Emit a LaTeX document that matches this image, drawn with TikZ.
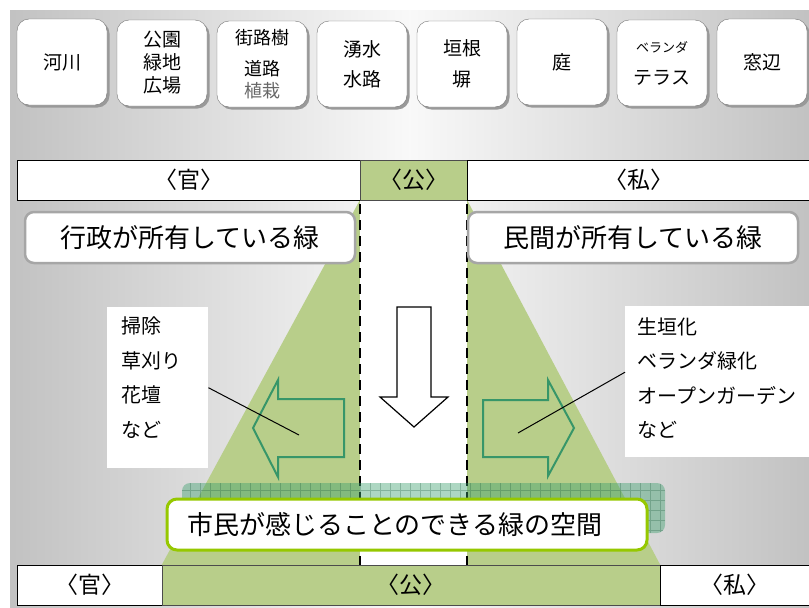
\documentclass[tikz,border=0pt]{standalone}
\usepackage{fontspec}
\setmainfont{Noto Sans CJK JP}
\usepackage{tikz}
\usetikzlibrary{calc,shapes,shadows,backgrounds,positioning}

\definecolor{midori}{RGB}{184,206,138}
\definecolor{yajirushi}{RGB}{55,150,105}
\definecolor{kimidori}{RGB}{150,200,0}
\definecolor{ami}{RGB}{60,160,110}

\begin{document}
\begin{tikzpicture}[x=1pt,y=-1pt]
          \useasboundingbox (0,0) rectangle (809,608);

          \tikzstyle{topbox}=[draw=gray!90!black, fill=white, rounded corners=12, minimum width=90, minimum height=86, align=center, font=\fontsize{19}{23}\selectfont, drop shadow={opacity=1, fill=gray!80, shadow xshift=2.5pt, shadow yshift=-2.5pt}]
          \tikzstyle{band}=[draw=black, fill=white, minimum height=40, inner sep=0, font=\fontsize{23}{27}\selectfont]
          \tikzstyle{bandko}=[band, draw=black!70, fill=midori]
          \tikzstyle{ownbox}=[draw=gray!70, line width=2.5, fill=white, rounded corners=9, minimum width=330, minimum height=51, inner sep=0, font=\fontsize{26}{30}\selectfont]
          \tikzstyle{listbox}=[fill=white, inner sep=0, anchor=north west]
          \tikzstyle{listtxt}=[inner sep=0, anchor=north west, align=left, font=\fontsize{20}{34.5}\selectfont]
          \tikzstyle{bigarrow}=[draw=yajirushi, line width=2, line join=miter]
          \tikzstyle{dashline}=[line width=2, dash pattern=on 10pt off 6pt]
          \tikzstyle{kukanbox}=[draw=kimidori, line width=3, fill=white, rounded corners=10, minimum width=480, minimum height=51, inner xsep=20, text width=440, align=left, font=\fontsize{26}{30}\selectfont]

          % 上段のボックス
          \node[topbox] (kasen) at (62,62) {河川};
          \node[topbox] (koen) at (162,63) {公園\\緑地\\広場};
          \node[topbox, font=\fontsize{18}{22}\selectfont] (gairo) at (262,64) {街路樹\\[9pt]道路\\\textcolor{gray!80!black}{植栽}};
          \node[topbox] (yusui) at (362,64) {湧水\\[7pt]水路};
          \node[topbox] (kakine) at (462,64) {垣根\\[8pt]塀};
          \node[topbox] (niwa) at (562,62) {庭};
          \node[topbox] (veranda) at (662,63) {{\fontsize{13}{15}\selectfont ベランダ}\\[9pt]テラス};
          \node[topbox] (madobe) at (762,62) {窓辺};

          % 官・公・私
          \node[band, minimum width=343] (kan1) at (188.5,180) {〈官〉};
          \node[bandko, minimum width=107] (ko1) at (413.5,180) {〈公〉};
          \node[band, minimum width=343] (shi1) at (638.5,180) {〈私〉};

          \node[band, minimum width=145] (kan2) at (89.5,585) {〈官〉};
          \node[bandko, minimum width=498] (ko2) at (411,585) {〈公〉};
          \node[band, minimum width=150] (shi2) at (735,585) {〈私〉};

          % 背景と緑の三角
          \begin{scope}[on background layer]
            \shade[left color=gray!48, right color=gray!48, middle color=gray!5] (10,10) rectangle (809,608);
            \fill[midori] (ko1.south west) -- (ko1.south west |- ko2.north) -- (ko2.north west) -- cycle;
            \fill[midori] (ko1.south east) -- (ko1.south east |- ko2.north) -- (ko2.north east) -- cycle;
            \fill[white] (ko1.south west) rectangle (ko1.south east |- ko2.north);
            \draw[dashline] ([yshift=-4pt]ko1.south west) -- (ko1.south west |- ko2.north);
            \draw[dashline] ([yshift=-4pt]ko1.south east) -- (ko1.south east |- ko2.north);
          \end{scope}

          % 所有している緑
          \node[ownbox] (gyosei) at (190,237.5) {行政が所有している緑};
          \node[ownbox] (minkan) at (633,237.5) {民間が所有している緑};

          % 矢印
          \draw[fill=white, line width=1.2] (397,307) -- (431,307) -- (431,397) -- (448,397) -- (414,427) -- (380,397) -- (397,397) -- cycle;
          \draw[bigarrow] (344,399) -- (344,457) -- (278,457) -- (278,477) -- (253,428) -- (278,380) -- (278,399) -- cycle;
          \draw[bigarrow] (483,400) -- (548,400) -- (548,380) -- (574,428) -- (548,476) -- (548,457) -- (483,457) -- cycle;

          % 活動の例
          \node[listbox, minimum width=101, minimum height=161] (lbox) at (107,307) {};
          \node[listtxt] (ltxt) at (121,317) {掃除\\草刈り\\花壇\\など};
          \node[listbox, minimum width=185, minimum height=151] (rbox) at (625,306) {};
          \node[listtxt] (rtxt) at (637,317) {生垣化\\ベランダ緑化\\オープンガーデン\\など};

          \coordinate (lend) at (299,435);
          \coordinate (rend) at (518,433);
          \draw[line width=1] (lbox.east) -- (lend);
          \draw[line width=1] ([yshift=9.5pt]rbox.west) -- (rend);

          % 網かけ
          \fill[ami, fill opacity=0.42, rounded corners=8] (182,483) rectangle (665,533);
          \begin{scope}
            \clip[rounded corners=8] (182,483) rectangle (665,533);
            \draw[ami!60!black, opacity=0.3, line width=0.6, step=10pt] (182,483) grid (665,533);
          \end{scope}

          % 市民が感じる緑
          \node[kukanbox] (kukan) at (407,524.5) {市民が感じることのできる緑の空間};
\end{tikzpicture}
\end{document}
